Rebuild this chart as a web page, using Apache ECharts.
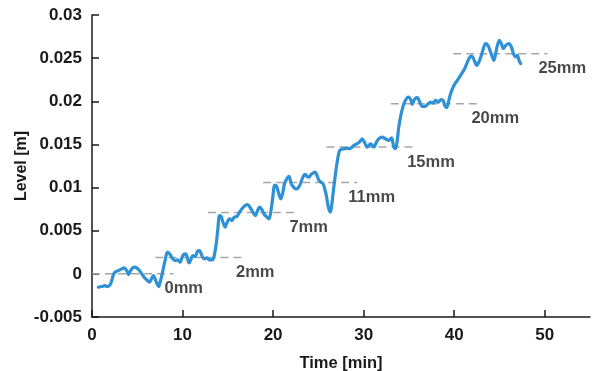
<!DOCTYPE html>
<html>
<head>
<meta charset="utf-8">
<script src="https://cdn.jsdelivr.net/npm/echarts@6/dist/echarts.min.js"></script>
<style>
  html, body { margin: 0; padding: 0; background: #fff; }
  #chart { width: 595px; height: 371px; }
</style>
</head>
<body>
<div id="chart"></div>
<script>
// Measured water level over time while the gauge is stepped up
var timeMin = [
  0.70, 1.07, 1.44, 1.69, 1.99, 2.18, 2.36, 2.54, 2.91, 3.29, 3.54, 3.84, 4.02, 4.20, 4.39,
  4.65, 4.94, 5.23, 5.50, 5.75, 6.05, 6.34, 6.60, 6.78, 7.04, 7.22, 7.37, 7.52, 7.71, 7.89,
  8.07, 8.33, 8.63, 8.92, 9.18, 9.43, 9.73, 9.92, 10.10, 10.36, 10.54, 10.73, 10.91, 11.13, 11.39,
  11.65, 11.87, 12.13, 12.39, 12.68, 12.98, 13.31, 13.50, 13.72, 13.90, 14.08, 14.27, 14.46, 14.71, 14.89,
  15.19, 15.45, 15.71, 16.00, 16.30, 16.56, 16.92, 17.18, 17.48, 17.77, 18.03, 18.29, 18.51, 18.78, 19.03,
  19.32, 19.54, 19.77, 19.99, 20.15, 20.35, 20.60, 20.85, 21.05, 21.25, 21.50, 21.75, 22.01, 22.27, 22.49,
  22.71, 22.93, 23.15, 23.38, 23.56, 23.75, 23.97, 24.19, 24.41, 24.63, 24.85, 25.07, 25.29, 25.52, 25.70,
  25.88, 26.03, 26.18, 26.33, 26.47, 26.62, 26.80, 26.99, 27.17, 27.35, 27.62, 27.88, 28.17, 28.43, 28.65,
  28.90, 29.28, 29.54, 29.83, 30.09, 30.39, 30.75, 31.12, 31.42, 31.67, 32.05, 32.41, 32.78, 33.08, 33.33,
  33.52, 33.71, 33.88, 34.15, 34.44, 34.81, 34.99, 35.21, 35.37, 35.62, 35.92, 36.20, 36.47, 36.84, 37.13,
  37.39, 37.69, 37.94, 38.27, 38.53, 38.79, 38.94, 39.16, 39.41, 39.60, 39.97, 40.34, 40.71, 41.15, 41.63,
  41.89, 42.07, 42.29, 42.48, 42.73, 43.00, 43.22, 43.47, 43.73, 43.95, 44.21, 44.39, 44.58, 44.77, 44.99,
  45.21, 45.43, 45.69, 46.05, 46.32, 46.54, 46.79, 46.98, 47.16, 47.35
];
var levelM = [
  -0.00155, -0.00147, -0.00136, -0.00147, -0.00128, -0.00078, -0.00012, 0.00019, 0.00038, 0.00058, 0.00070, 0.00038, -0.00008, 0.00027, 0.00058,
  0.00077, 0.00070, 0.00038, 0.00000, -0.00039, -0.00070, -0.00097, -0.00051, -0.00020, -0.00078, -0.00124, -0.00147, -0.00097, -0.00020, 0.00070,
  0.00154, 0.00251, 0.00224, 0.00174, 0.00154, 0.00162, 0.00135, 0.00186, 0.00224, 0.00232, 0.00181, 0.00128, 0.00162, 0.00212, 0.00201,
  0.00262, 0.00270, 0.00212, 0.00174, 0.00186, 0.00162, 0.00162, 0.00212, 0.00348, 0.00522, 0.00676, 0.00665, 0.00599, 0.00541, 0.00587,
  0.00638, 0.00618, 0.00657, 0.00665, 0.00715, 0.00754, 0.00792, 0.00804, 0.00766, 0.00715, 0.00676, 0.00734, 0.00773, 0.00742, 0.00688,
  0.00657, 0.00638, 0.00734, 0.00908, 0.01030, 0.01020, 0.00940, 0.00870, 0.00930, 0.01040, 0.01100, 0.01130, 0.01044, 0.01005, 0.00986,
  0.00990, 0.01024, 0.01082, 0.01140, 0.01152, 0.01129, 0.01121, 0.01152, 0.01167, 0.01179, 0.01140, 0.01082, 0.01063, 0.01044, 0.00986,
  0.00908, 0.00812, 0.00742, 0.00715, 0.00792, 0.00928, 0.01082, 0.01237, 0.01353, 0.01430, 0.01446, 0.01450, 0.01457, 0.01450, 0.01462,
  0.01488, 0.01508, 0.01527, 0.01566, 0.01527, 0.01469, 0.01508, 0.01469, 0.01527, 0.01566, 0.01585, 0.01566, 0.01546, 0.01575, 0.01469,
  0.01450, 0.01546, 0.01701, 0.01856, 0.01972, 0.02042, 0.02049, 0.02016, 0.01964, 0.02022, 0.02042, 0.01991, 0.01941, 0.01944, 0.01972,
  0.01991, 0.01979, 0.02010, 0.01991, 0.02019, 0.02010, 0.01952, 0.01926, 0.02010, 0.02088, 0.02184, 0.02242, 0.02300, 0.02378, 0.02494,
  0.02523, 0.02509, 0.02455, 0.02416, 0.02455, 0.02532, 0.02610, 0.02668, 0.02648, 0.02590, 0.02513, 0.02474, 0.02552, 0.02648, 0.02707,
  0.02668, 0.02610, 0.02648, 0.02668, 0.02629, 0.02552, 0.02513, 0.02532, 0.02474, 0.02436
];

// Reference levels for each gauge setting
var levelNames  = ['0mm', '2mm', '7mm', '11mm', '15mm', '20mm', '25mm'];
var levelValues = [0, 0.0019, 0.0071, 0.0106, 0.0147, 0.0197, 0.0255];
var levelStart  = [0, 7.0, 12.8, 18.9, 25.9, 33.0, 39.9];
var levelEnd    = [9.0, 16.9, 22.8, 29.3, 35.8, 42.9, 50.3];

// Axis ticks
var xTicks = [0, 10, 20, 30, 40, 50];

var FONT = 'Liberation Sans, Arial, Helvetica, sans-serif';
var INK = '#1a1a1a';

var series = [];

levelValues.forEach(function (v, i) {
  series.push({
    type: 'line',
    name: levelNames[i],
    data: [[levelStart[i], v], [levelEnd[i], v]],
    showSymbol: false,
    silent: true,
    z: 1,
    lineStyle: { color: '#a6a6a6', width: 1.5, type: [8, 5] }
  });
});

series.push({
  type: 'line',
  name: 'Level',
  data: timeMin.map(function (t, i) { return [t, levelM[i]]; }),
  showSymbol: false,
  smooth: 0.3,
  z: 3,
  lineStyle: { color: '#2f91d5', width: 3.2, cap: 'round', join: 'round' }
});

// Setting labels, anchored at the right end of each reference level
series.push({
  type: 'scatter',
  data: levelValues.map(function (v, i) { return [levelEnd[i], v, levelNames[i]]; }),
  symbolSize: 1,
  silent: true,
  z: 4,
  itemStyle: { color: 'rgba(0,0,0,0)' },
  label: {
    show: true,
    position: 'inside',
    align: 'left',
    verticalAlign: 'middle',
    offset: [-9, 15],
    formatter: function (p) { return p.value[2]; },
    fontFamily: FONT,
    fontSize: 16.5,
    fontWeight: 'bold',
    color: INK
  }
});

var chart = echarts.init(document.getElementById('chart'), null, { renderer: 'canvas' });
chart.setOption({
  animation: false,
  backgroundColor: '#fff',
  grid: { left: 92, right: 5, top: 15, bottom: 54, containLabel: false, outerBoundsMode: 'none' },
  xAxis: {
    type: 'value',
    min: 0,
    max: 55,
    name: 'Time [min]',
    nameLocation: 'middle',
    nameGap: 38,
    nameMoveOverlap: false,
    nameTextStyle: { fontFamily: FONT, fontSize: 16.5, fontWeight: 'bold', color: INK },
    axisLine: { onZero: false, lineStyle: { color: INK, width: 1.5 } },
    axisTick: { inside: true, length: 7, customValues: xTicks, lineStyle: { color: INK, width: 1.5 } },
    axisLabel: {
      customValues: xTicks,
      margin: 10,
      fontFamily: FONT, fontSize: 17, fontWeight: 'bold', color: INK
    },
    splitLine: { show: false }
  },
  yAxis: {
    type: 'value',
    min: -0.005,
    max: 0.03,
    interval: 0.005,
    name: 'Level [m]',
    nameLocation: 'middle',
    nameGap: 62,
    nameMoveOverlap: false,
    nameTextStyle: { fontFamily: FONT, fontSize: 16, fontWeight: 'bold', color: INK },
    axisLine: { show: true, lineStyle: { color: INK, width: 1.5 } },
    axisTick: { show: true, inside: true, length: 7, lineStyle: { color: INK, width: 1.5 } },
    axisLabel: {
      margin: 10,
      fontFamily: FONT, fontSize: 17, fontWeight: 'bold', color: INK,
      formatter: function (v) { return String(+v.toFixed(3)); }
    },
    splitLine: { show: false }
  },
  series: series
});
</script>
</body>
</html>
